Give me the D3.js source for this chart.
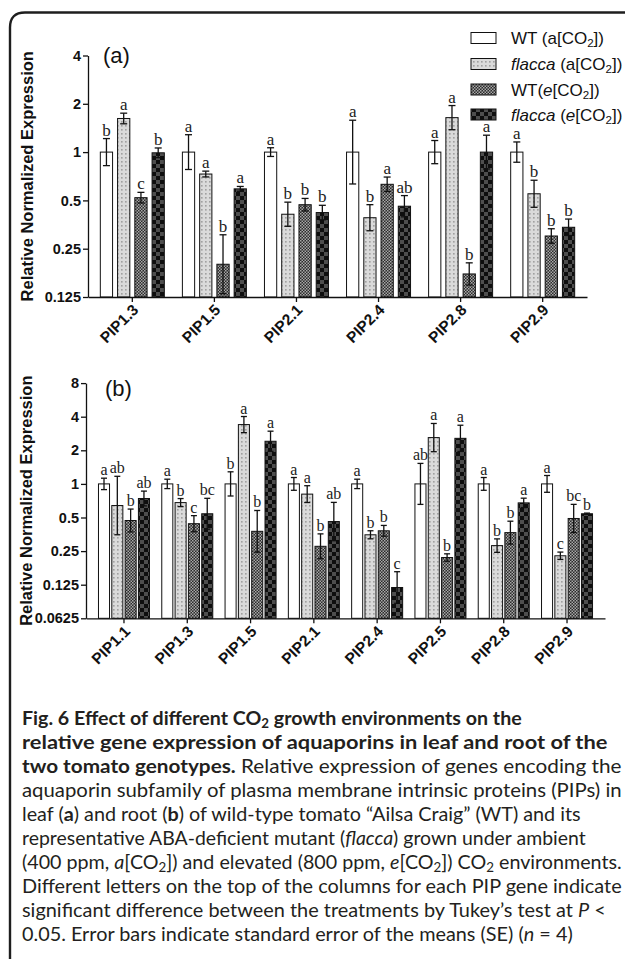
<!DOCTYPE html>
<html>
<head>
<meta charset="utf-8">
<script src="https://cdn.jsdelivr.net/npm/d3@7"></script>
<style>
  body { margin: 0; background: #fff; }
  svg { display: block; }
</style>
</head>
<body>
<svg id="fig" width="625" height="962"></svg>
<script>
// ---- Genes on each panel ----
const leafGenes = ["PIP1.3", "PIP1.5", "PIP2.1", "PIP2.4", "PIP2.8", "PIP2.9"];
const rootGenes = ["PIP1.1", "PIP1.3", "PIP1.5", "PIP2.1", "PIP2.4", "PIP2.5", "PIP2.8", "PIP2.9"];

// ---- Leaf (a): relative normalized expression (WT ambient = 1) ----
const leafWtAmb   = [1.00, 1.00, 1.00, 1.00, 1.00, 1.00];
const leafFlcAmb  = [1.62, 0.73, 0.41, 0.39, 1.64, 0.55];
const leafWtElev  = [0.52, 0.20, 0.47, 0.63, 0.174, 0.30];
const leafFlcElev = [0.99, 0.59, 0.42, 0.46, 1.00, 0.34];
// standard error of ΔΔCt (log2 units)
const leafWtAmbSE   = [0.28, 0.36, 0.09, 0.66, 0.24, 0.21];
const leafFlcAmbSE  = [0.11, 0.06, 0.25, 0.27, 0.25, 0.28];
const leafWtElevSE  = [0.11, 0.61, 0.13, 0.15, 0.23, 0.15];
const leafFlcElevSE = [0.10, 0.05, 0.15, 0.22, 0.35, 0.17];
// Tukey groupings
const leafWtAmbLet   = ["b", "a", "a", "a", "a", "a"];
const leafFlcAmbLet  = ["a", "a", "b", "b", "a", "b"];
const leafWtElevLet  = ["c", "b", "b", "a", "b", "b"];
const leafFlcElevLet = ["b", "a", "b", "ab", "a", "b"];

// ---- Root (b) ----
const rootWtAmb   = [1.00, 1.00, 1.00, 1.00, 1.00, 1.00, 1.00, 1.00];
const rootFlcAmb  = [0.64, 0.68, 3.40, 0.81, 0.35, 2.60, 0.28, 0.227];
const rootWtElev  = [0.47, 0.44, 0.376, 0.276, 0.38, 0.219, 0.366, 0.49];
const rootFlcElev = [0.74, 0.54, 2.41, 0.46, 0.118, 2.56, 0.676, 0.54];
const rootWtAmbSE   = [0.17, 0.14, 0.36, 0.19, 0.14, 0.61, 0.19, 0.25];
const rootFlcAmbSE  = [0.87, 0.12, 0.24, 0.25, 0.12, 0.42, 0.20, 0.11];
const rootWtElevSE  = [0.34, 0.24, 0.62, 0.37, 0.16, 0.11, 0.34, 0.42];
const rootFlcElevSE = [0.22, 0.46, 0.30, 0.57, 0.47, 0.39, 0.14, 0.02];
const rootWtAmbLet   = ["a", "a", "b", "a", "a", "ab", "a", "a"];
const rootFlcAmbLet  = ["ab", "b", "a", "a", "b", "a", "b", "c"];
const rootWtElevLet  = ["b", "c", "b", "b", "b", "b", "b", "bc"];
const rootFlcElevLet = ["ab", "bc", "a", "ab", "c", "a", "a", "b"];

// ---- Axis ticks ----
const leafTicks = [0.125, 0.25, 0.5, 1, 2, 4];
const leafTickLabels = ["0.125", "0.25", "0.5", "1", "2", "4"];
const rootTicks = [0.0625, 0.125, 0.25, 0.5, 1, 2, 4, 8];
const rootTickLabels = ["0.0625", "0.125", "0.25", "0.5", "1", "2", "4", "8"];

// ---- Treatments (legend order) ----
const treatments = ["wtAmb", "flcAmb", "wtElev", "flcElev"];
const treatmentNames = [
  [{ t: "WT (a[CO" }, { t: "2", sub: true }, { t: "])" }],
  [{ t: "flacca", it: true }, { t: " (a[CO" }, { t: "2", sub: true }, { t: "])" }],
  [{ t: "WT(" }, { t: "e", it: true }, { t: "[CO" }, { t: "2", sub: true }, { t: "])" }],
  [{ t: "flacca", it: true }, { t: " (" }, { t: "e", it: true }, { t: "[CO" }, { t: "2", sub: true }, { t: "])" }]
];

const SANS = "'Liberation Sans', Arial, sans-serif";
const SERIF = "'Liberation Serif', 'Times New Roman', serif";
const CAP_FONT = "Lato, 'Open Sans', sans-serif";

const svg = d3.select("#fig");
const defs = svg.append("defs");

// ---- Fill patterns for the four treatments ----
function pattern(id, w, h, bg, cells) {
  const p = defs.append("pattern").attr("id", id)
    .attr("patternUnits", "userSpaceOnUse").attr("width", w).attr("height", h);
  p.append("rect").attr("width", w).attr("height", h).attr("fill", bg);
  cells.forEach(c => p.append("rect").attr("x", c[0]).attr("y", c[1])
    .attr("width", c[2]).attr("height", c[3]).attr("fill", c[4]));
}
pattern("pDots", 4, 4, "#dadada", [[1.2, 1.2, 1.3, 1.3, "#808080"]]);
pattern("pFine", 3, 3, "#2b2b2b", [[0, 0, 1.5, 1.5, "#a8a8a8"], [1.5, 1.5, 1.5, 1.5, "#a8a8a8"]]);
pattern("pBig", 8, 8, "#0e0e0e", [[0, 0, 4, 4, "#4e4e4e"], [4, 4, 4, 4, "#4e4e4e"]]);
const fills = { wtAmb: "#ffffff", flcAmb: "url(#pDots)", wtElev: "url(#pFine)", flcElev: "url(#pBig)" };

// ---- Outer frame (top and left rule with a rounded corner) ----
svg.append("path")
  .attr("d", "M625,12.5 L25,12.5 Q10,12.5 10,27.5 L10,959")
  .attr("fill", "none").attr("stroke", "#1e1e1e").attr("stroke-width", 2.4);

function drawPanel(o) {
  const g = svg.append("g");
  const x = d3.scaleBand().domain(o.genes).range(o.xRange).paddingInner(0).paddingOuter(o.outerPad);
  const inner = d3.scaleBand().domain(treatments)
    .range([-o.groupWidth / 2, o.groupWidth / 2]).paddingInner(o.innerPad).paddingOuter(0);
  const y = d3.scaleLog().base(2).domain(o.yDomain).range(o.yRange);
  const base = y(o.yDomain[0]);

  const rows = [];
  o.genes.forEach((gene, i) => {
    treatments.forEach((t, k) => {
      rows.push({ gene, t, v: o.means[k][i], se: o.se[k][i], lab: o.letters[k][i] });
    });
  });
  const cx = d => x(d.gene) + x.bandwidth() / 2 + inner(d.t) + inner.bandwidth() / 2;

  // bars
  g.selectAll("rect.bar").data(rows).join("rect").attr("class", "bar")
    .attr("x", d => x(d.gene) + x.bandwidth() / 2 + inner(d.t))
    .attr("width", inner.bandwidth())
    .attr("y", d => y(d.v))
    .attr("height", d => base - y(d.v))
    .attr("fill", d => fills[d.t])
    .attr("stroke", "#111").attr("stroke-width", 1);

  // error bars (symmetric in ΔΔCt, i.e. on the log2 axis)
  const hi = d => d.v * Math.pow(2, d.se);
  const lo = d => d.v / Math.pow(2, d.se);
  const eb = g.append("g").attr("stroke", "#111").attr("stroke-width", 1.3);
  rows.forEach(d => {
    const c = cx(d);
    eb.append("line").attr("x1", c).attr("x2", c).attr("y1", y(hi(d))).attr("y2", y(lo(d)));
    eb.append("line").attr("x1", c - o.capW / 2).attr("x2", c + o.capW / 2).attr("y1", y(hi(d))).attr("y2", y(hi(d)));
    eb.append("line").attr("x1", c - o.capW / 2).attr("x2", c + o.capW / 2).attr("y1", y(lo(d))).attr("y2", y(lo(d)));
  });

  // significance letters
  g.selectAll("text.sig").data(rows).join("text").attr("class", "sig")
    .attr("x", d => cx(d)).attr("y", d => y(hi(d)) - 3)
    .attr("text-anchor", "middle")
    .style("font-family", SERIF).style("font-size", o.letterSize + "px").attr("fill", "#222")
    .text(d => d.lab);

  // y axis
  const yAxis = g.append("g").attr("transform", `translate(${o.xRange[0]},0)`)
    .call(d3.axisLeft(y).tickValues(o.ticks).tickFormat((d, i) => o.tickLabels[i])
      .tickSize(5).tickSizeOuter(0).tickPadding(2));
  yAxis.selectAll("text").style("font-family", SANS).style("font-weight", "bold")
    .style("font-size", "14.5px").attr("fill", "#111");

  // x axis
  const xAxis = g.append("g").attr("transform", `translate(0,${base})`)
    .call(d3.axisBottom(x).tickSize(5).tickSizeOuter(0));
  xAxis.selectAll("text")
    .attr("text-anchor", "end").attr("x", 0).attr("y", 0).attr("dy", 0)
    .attr("transform", "translate(7,14) rotate(-45)")
    .style("font-family", SANS).style("font-weight", "bold").style("font-size", "15.5px").attr("fill", "#111");
  g.selectAll(".domain, .tick line").attr("stroke", "#111").attr("stroke-width", 1.3);

  // y-axis title
  g.append("text")
    .attr("transform", `translate(${o.titleX},${(y.range()[0] + y.range()[1]) / 2}) rotate(-90)`)
    .attr("text-anchor", "middle")
    .style("font-family", SANS).style("font-weight", "bold").style("font-size", "16.5px").attr("fill", "#111")
    .text("Relative Normalized Expression");

  // panel tag
  g.append("text").attr("x", o.tagPos[0]).attr("y", o.tagPos[1])
    .style("font-family", SANS).style("font-size", "22px").attr("fill", "#111").text(o.tag);
}

drawPanel({
  genes: leafGenes,
  means: [leafWtAmb, leafFlcAmb, leafWtElev, leafFlcElev],
  se: [leafWtAmbSE, leafFlcAmbSE, leafWtElevSE, leafFlcElevSE],
  letters: [leafWtAmbLet, leafFlcAmbLet, leafWtElevLet, leafFlcElevLet],
  yDomain: [0.125, 4], yRange: [297, 55.5],
  xRange: [88, 587], outerPad: 0.04,
  groupWidth: 64, innerPad: 0.29, capW: 7,
  ticks: leafTicks, tickLabels: leafTickLabels,
  letterSize: 17, titleX: 33, tag: "(a)", tagPos: [103, 63]
});

drawPanel({
  genes: rootGenes,
  means: [rootWtAmb, rootFlcAmb, rootWtElev, rootFlcElev],
  se: [rootWtAmbSE, rootFlcAmbSE, rootWtElevSE, rootFlcElevSE],
  letters: [rootWtAmbLet, rootFlcAmbLet, rootWtElevLet, rootFlcElevLet],
  yDomain: [0.0625, 8], yRange: [618.3, 383.1],
  xRange: [86, 605], outerPad: 0.1,
  groupWidth: 51, innerPad: 0.17, capW: 6,
  ticks: rootTicks, tickLabels: rootTickLabels,
  letterSize: 16, titleX: 32, tag: "(b)", tagPos: [105, 396]
});

// ---- Legend ----
function richText(sel, segs, size, subShift) {
  let shift = 0;
  segs.forEach(s => {
    const ts = sel.append("tspan").text(s.t);
    const want = s.sub ? size * subShift : 0;
    if (want !== shift) { ts.attr("dy", want - shift); shift = want; }
    if (s.sub) ts.style("font-size", (size * 0.68) + "px");
    if (s.it) ts.style("font-style", "italic");
    if (s.b) ts.style("font-weight", "bold");
  });
}
const legendY = [38, 64, 89.5, 114.5];
treatments.forEach((t, i) => {
  svg.append("rect").attr("x", 471).attr("y", legendY[i] - 5.5).attr("width", 25).attr("height", 11)
    .attr("fill", fills[t]).attr("stroke", "#111").attr("stroke-width", 1);
  const tx = svg.append("text").attr("x", 511).attr("y", legendY[i] + 6)
    .style("font-family", SANS).style("font-size", "17px").attr("fill", "#111");
  richText(tx, treatmentNames[i], 17, 0.2);
});

// ---- Caption ----
const captionLines = [
  [{ t: "Fig. 6 Effect of different CO", b: 1 }, { t: "2", b: 1, sub: 1 }, { t: " growth environments on the", b: 1 }],
  [{ t: "relative gene expression of aquaporins in leaf and root of the", b: 1 }],
  [{ t: "two tomato genotypes.", b: 1 }, { t: " Relative expression of genes encoding the" }],
  [{ t: "aquaporin subfamily of plasma membrane intrinsic proteins (PIPs) in" }],
  [{ t: "leaf (" }, { t: "a", b: 1 }, { t: ") and root (" }, { t: "b", b: 1 }, { t: ") of wild-type tomato \u201cAilsa Craig\u201d (WT) and its" }],
  [{ t: "representative ABA-deficient mutant (" }, { t: "flacca", it: 1 }, { t: ") grown under ambient" }],
  [{ t: "(400 ppm, " }, { t: "a", it: 1 }, { t: "[CO" }, { t: "2", sub: 1 }, { t: "]) and elevated (800 ppm, " }, { t: "e", it: 1 }, { t: "[CO" }, { t: "2", sub: 1 }, { t: "]) CO" }, { t: "2", sub: 1 }, { t: " environments." }],
  [{ t: "Different letters on the top of the columns for each PIP gene indicate" }],
  [{ t: "significant difference between the treatments by Tukey\u2019s test at " }, { t: "P", it: 1 }, { t: " <" }],
  [{ t: "0.05. Error bars indicate standard error of the means (SE) (" }, { t: "n", it: 1 }, { t: " = 4)" }]
];
const captionRight = [522, 608, 622, 622, 581, 586, 622, 622, 606, 573];
const capX = 22, capY0 = 725, capLead = 24, capSize = 18.5;
captionLines.forEach((segs, i) => {
  const t = svg.append("text").attr("x", 0).attr("y", 0)
    .style("font-family", CAP_FONT).style("font-size", capSize + "px").attr("fill", "#231f20");
  richText(t, segs, capSize, 0.18);
  const w = t.node().getComputedTextLength();
  const k = (captionRight[i] - capX) / w;
  t.attr("transform", `translate(${capX},${capY0 + i * capLead}) scale(${k},1)`);
});
</script>
</body>
</html>
